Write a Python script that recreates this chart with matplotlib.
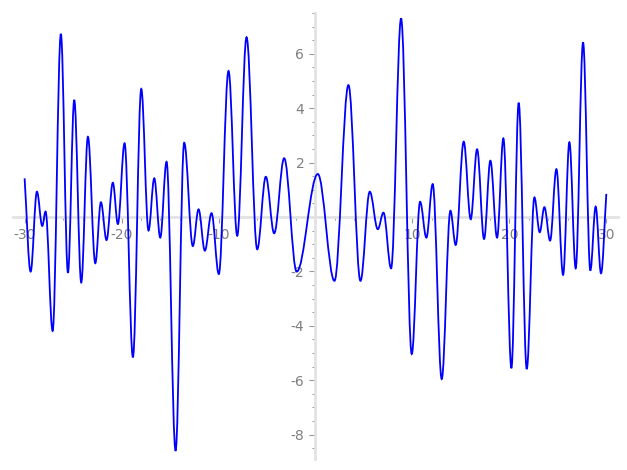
import matplotlib
matplotlib.use("Agg")
import matplotlib.pyplot as plt
from matplotlib.path import Path
from matplotlib.patches import PathPatch
from matplotlib.ticker import MultipleLocator, FuncFormatter

# turning points of the curve (start, extrema..., end)
xs = [-30.0, -29.38, -28.73, -28.18, -27.84, -27.11, -26.26, -25.53, -24.88, -24.16,
      -23.47, -22.71, -22.13, -21.55, -20.90, -20.38, -19.69, -18.83, -17.97, -17.22,
      -16.63, -16.01, -15.36, -14.43, -13.54, -12.65, -12.06, -11.41, -10.72, -9.97,
      -8.97, -8.07, -7.11, -6.01, -5.12, -4.26, -3.23, -1.94, 0.24, 1.96,
      3.40, 4.64, 5.60, 6.43, 7.01, 7.80, 8.83, 9.93, 10.79, 11.44,
      12.09, 13.02, 13.92, 14.46, 15.29, 16.01, 16.67, 17.39, 18.04, 18.73,
      19.38, 20.21, 20.96, 21.79, 22.58, 23.13, 23.61, 24.20, 24.85, 25.54,
      26.19, 26.84, 27.60, 28.35, 28.90, 29.45, 30.0]
ys = [1.42, -2.01, 0.93, -0.33, 0.20, -4.19, 6.73, -2.05, 4.30, -2.41,
      2.95, -1.70, 0.54, -0.85, 1.26, -0.26, 2.71, -5.16, 4.71, -0.50,
      1.42, -0.76, 2.03, -8.60, 2.73, -1.07, 0.28, -1.24, 0.14, -2.10,
      5.37, -0.69, 6.61, -1.19, 1.48, -0.60, 2.16, -2.01, 1.58, -2.35,
      4.85, -2.35, 0.93, -0.45, 0.16, -1.89, 7.30, -5.04, 0.56, -0.76,
      1.21, -5.96, 0.23, -1.03, 2.77, -0.08, 2.49, -0.81, 2.07, -0.76,
      2.89, -5.56, 4.20, -5.59, 0.72, -0.56, 0.36, -0.87, 1.76, -2.13,
      2.75, -1.89, 6.42, -1.97, 0.38, -2.07, 0.85]

fig = plt.figure(figsize=(6.27, 4.70), dpi=100)
ax = fig.add_axes([0.0207, 0.0234, 0.9649, 0.9489])

# smooth half-waves between turning points (flat tangent at each extremum)
k = 0.364
verts = [(xs[0], ys[0])]
codes = [Path.MOVETO]
n = len(xs)
for i in range(n - 1):
    x0, y0, x1, y1 = xs[i], ys[i], xs[i + 1], ys[i + 1]
    d = x1 - x0
    c1y = y0 + (y1 - y0) * k if i == 0 else y0
    c2y = y1 - (y1 - y0) * k if i == n - 2 else y1
    verts += [(x0 + k * d, c1y), (x1 - k * d, c2y), (x1, y1)]
    codes += [Path.CURVE4] * 3
ax.add_patch(PathPatch(Path(verts, codes), facecolor="none", edgecolor="blue",
                       lw=1.3, zorder=3))

ax.set_xlim(-31.2, 31.2)
ax.set_ylim(-8.9, 7.5)

for s in ["top", "right"]:
    ax.spines[s].set_visible(False)
for s in ["left", "bottom"]:
    ax.spines[s].set_position(("data", 0))
    ax.spines[s].set_color("#e2e2e2")
    ax.spines[s].set_linewidth(2)

ax.xaxis.set_major_locator(MultipleLocator(10))
ax.xaxis.set_minor_locator(MultipleLocator(2))
ax.yaxis.set_major_locator(MultipleLocator(2))
ax.yaxis.set_minor_locator(MultipleLocator(0.5))
fmt = FuncFormatter(lambda v, p: "" if abs(v) < 1e-9 else "%d" % round(v))
ax.xaxis.set_major_formatter(fmt)
ax.yaxis.set_major_formatter(fmt)

ax.tick_params(which="major", length=4, width=0.8, color="#999999",
               labelcolor="#7f7f7f", labelsize=10, pad=4)
ax.tick_params(which="minor", length=2.5, width=0.7, color="#999999")
ax.set_facecolor("white")

fig.savefig("out.png", dpi=100)
